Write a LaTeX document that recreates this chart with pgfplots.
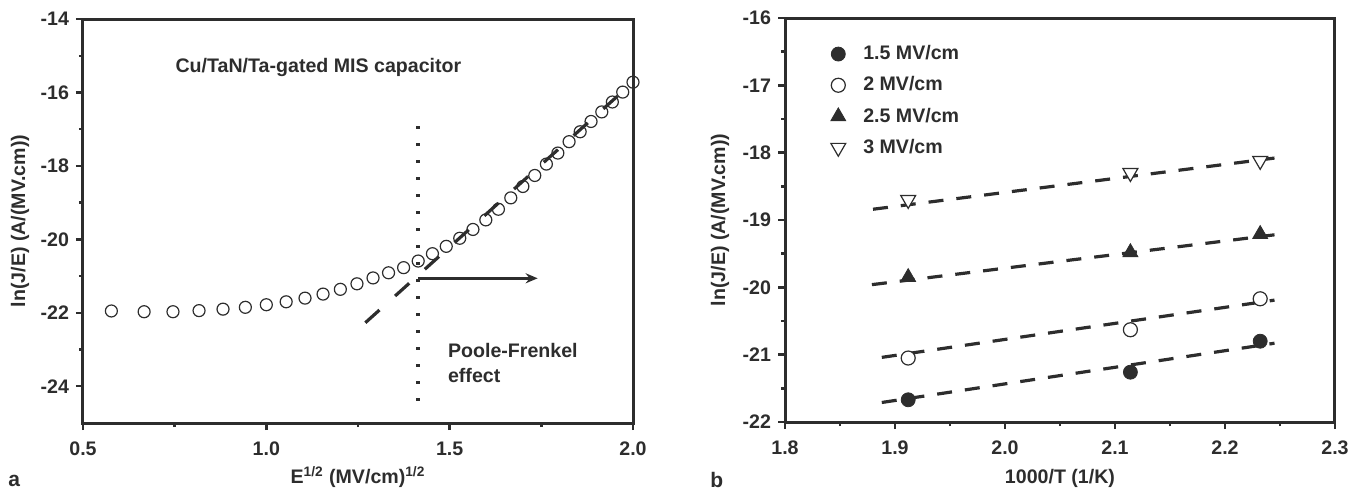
\documentclass[border=0pt]{standalone}
\usepackage{fontspec}
\setmainfont{Liberation Sans}
\usepackage{pgfplots}
\pgfplotsset{compat=1.18}
\usetikzlibrary{arrows.meta}
\definecolor{ink}{RGB}{45,45,45}
\newcommand{\fs}{\fontsize{9.8}{11.8}\selectfont\bfseries}
\pgfplotsset{
  myaxis/.style={
    scale only axis, width=275pt, height=202pt,
    axis line style={ink, line width=1.5pt},
    tick style={ink, line width=1.2pt},
    major tick length=3.5pt, minor tick length=2pt,
    tick align=outside, xtick pos=left, ytick pos=left,
    minor x tick num=1, minor y tick num=1,
    tick label style={font=\fs, text=ink},
    label style={font=\fs, text=ink},
    /pgf/number format/assume math mode=true,
    clip mode=individual,
    xticklabel style={yshift=-2.5pt, /pgf/number format/.cd, fixed, fixed zerofill, precision=1},
  }
}
\begin{document}
\begin{tikzpicture}
\path[use as bounding box] (-41.5pt,-33pt) rectangle (639pt,211.5pt);
% ---------------- panel a
\begin{axis}[myaxis, at={(0pt,0pt)}, anchor=south west,
  xmin=0.5, xmax=2.0, ymin=-25, ymax=-14,
  xtick={0.5,1.0,1.5,2.0}, ytick={-24,-22,-20,-18,-16,-14},
  xlabel={E\textsuperscript{1/2} (MV/cm)\textsuperscript{1/2}},
  xlabel style={at={(axis description cs:0.5,-0.134)}, anchor=center},
  ylabel={ln(J/E) (A/(MV.cm))},
  ylabel style={at={(axis description cs:-0.1145,0.5)}, anchor=center},
]
\addplot[only marks, mark=o, mark size=3pt, mark options={line width=0.6pt, draw=ink}] coordinates {
(0.5774,-21.95) (0.6667,-21.97) (0.7454,-21.97) (0.8165,-21.94) (0.8819,-21.90)
(0.9428,-21.85) (1.0000,-21.78) (1.0541,-21.70) (1.1055,-21.60) (1.1547,-21.49)
(1.2019,-21.36) (1.2472,-21.21) (1.2910,-21.05) (1.3333,-20.91) (1.3744,-20.77)
(1.4142,-20.59) (1.4530,-20.39) (1.4907,-20.19) (1.5275,-19.97) (1.5635,-19.73)
(1.5986,-19.47) (1.6330,-19.18) (1.6667,-18.87) (1.6997,-18.56) (1.7321,-18.26)
(1.7638,-17.95) (1.7951,-17.65) (1.8257,-17.34) (1.8559,-17.07) (1.8856,-16.79)
(1.9149,-16.53) (1.9437,-16.26) (1.9720,-15.99) (2.0000,-15.72)
};
\addplot[ink, line width=1.6pt, dash pattern=on 9.5pt off 10.5pt] coordinates {(1.27,-22.27) (2.0,-15.72)};
\addplot[ink, line width=1.7pt, dash pattern=on 1.6pt off 6.9pt] coordinates {(1.414,-16.92) (1.414,-24.52)};
\addplot[ink, line width=1.5pt, -{Stealth[length=6pt,width=5pt]}] coordinates {(1.414,-21.06) (1.74,-21.06)};
\node[anchor=base west, font=\fs, text=ink, inner sep=0pt] at (axis cs:0.7514,-15.444) {Cu/TaN/Ta-gated MIS capacitor};
\node[anchor=base west, font=\fs, text=ink, inner sep=0pt] at (axis cs:1.4945,-23.22) {Poole-Frenkel};
\node[anchor=base west, font=\fs, text=ink, inner sep=0pt] at (axis cs:1.4945,-23.91) {effect};
\node[anchor=base west, font=\fontsize{10.5}{12}\selectfont\bfseries, text=ink, inner sep=0pt] at (axis description cs:-0.1364,-0.1584) {a};
\end{axis}
% ---------------- panel b
\begin{axis}[myaxis, at={(351pt,0.5pt)}, anchor=south west,
  xmin=1.8, xmax=2.3, ymin=-22, ymax=-16,
  xtick={1.8,1.9,2.0,2.1,2.2,2.3}, ytick={-22,-21,-20,-19,-18,-17,-16},
  xlabel={1000/T (1/K)},
  xlabel style={at={(axis description cs:0.5,-0.139)}, anchor=center},
  ylabel={ln(J/E) (A/(MV.cm))},
  ylabel style={at={(axis description cs:-0.118,0.5)}, anchor=center},
  legend style={draw=none, fill=none, at={(axis description cs:0.078,0.943)}, anchor=north west,
    font=\fs, text=ink, row sep=3pt, inner sep=0pt, nodes={inner sep=2pt}},
  legend cell align=left,
  legend image code/.code={\draw[mark repeat=2,mark phase=2,#1] plot coordinates {(0pt,0pt) (5pt,0pt) (10pt,0pt)}; \path[draw=none,fill=none] (0pt,0pt) -- (15.5pt,0pt);},
]
\addplot[ink, line width=1.6pt, dash pattern=on 7.5pt off 6.5pt, forget plot] coordinates {(1.888,-21.71) (2.245,-20.83)};
\addplot[ink, line width=1.6pt, dash pattern=on 7.5pt off 6.5pt, forget plot] coordinates {(1.888,-21.04) (2.245,-20.19)};
\addplot[ink, line width=1.6pt, dash pattern=on 7.5pt off 6.5pt, forget plot] coordinates {(1.879,-19.96) (2.245,-19.22)};
\addplot[ink, line width=1.6pt, dash pattern=on 7.5pt off 6.5pt, forget plot] coordinates {(1.880,-18.84) (2.245,-18.08)};
\addplot[only marks, mark=*, mark size=3.5pt, mark options={draw=ink, fill=ink}] coordinates {(1.912,-21.67) (2.114,-21.26) (2.232,-20.80)};
\addlegendentry{1.5 MV/cm}
\addplot[only marks, mark=*, mark size=3.5pt, mark options={draw=ink, fill=white, line width=0.6pt}] coordinates {(1.912,-21.05) (2.114,-20.63) (2.232,-20.17)};
\addlegendentry{2 MV/cm}
\addplot[only marks, mark=triangle*, mark size=4.3pt, mark options={draw=ink, fill=ink}] coordinates {(1.912,-19.85) (2.114,-19.48) (2.232,-19.21)};
\addlegendentry{2.5 MV/cm}
\addplot[only marks, mark=triangle*, mark size=4.3pt, mark options={draw=ink, fill=white, line width=0.6pt, rotate=180}] coordinates {(1.912,-18.70) (2.114,-18.30) (2.232,-18.12)};
\addlegendentry{3 MV/cm}
\node[anchor=base west, font=\fontsize{10.5}{12}\selectfont\bfseries, text=ink, inner sep=0pt] at (axis description cs:-0.1364,-0.1613) {b};
\end{axis}
\end{tikzpicture}
\end{document}
